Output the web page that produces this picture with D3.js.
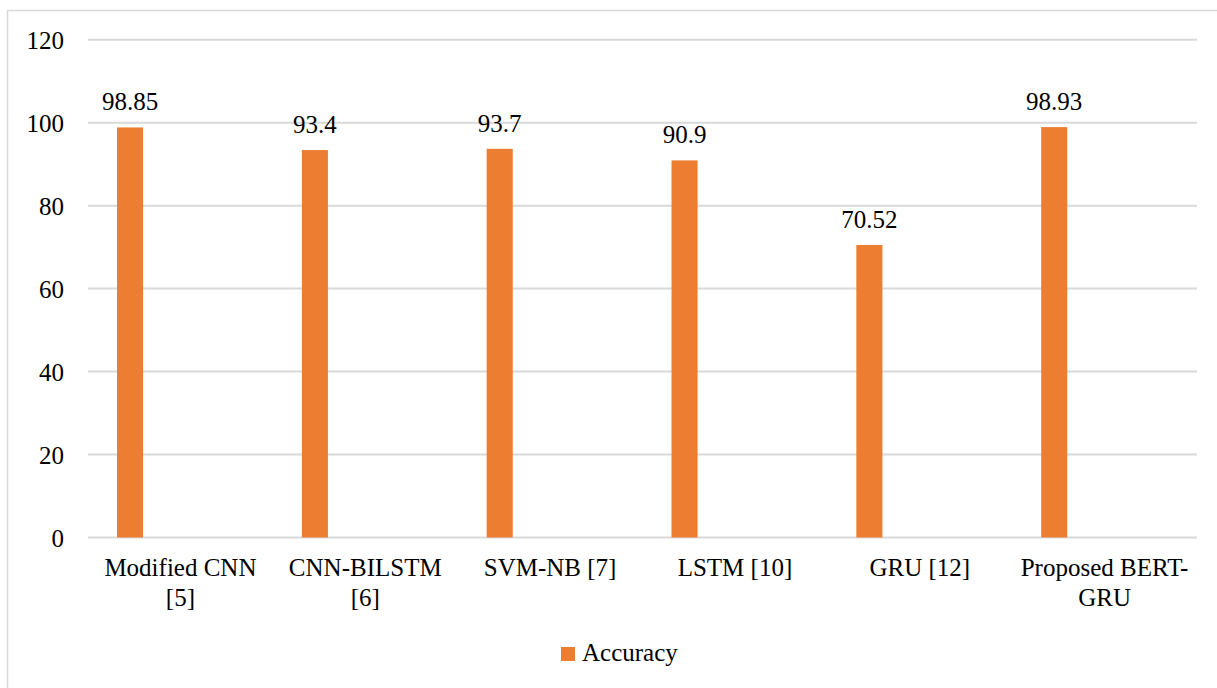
<!DOCTYPE html>
<html>
<head>
<meta charset="utf-8">
<script src="https://cdn.jsdelivr.net/npm/d3@7"></script>
<style>
  html, body { margin: 0; padding: 0; background: #fff; }
  svg { display: block; }
</style>
</head>
<body>
<svg id="chart" width="1217" height="688"></svg>
<script>
// Accuracy of each model
const categories = [
  ["Modified CNN", "[5]"],
  ["CNN-BILSTM", "[6]"],
  ["SVM-NB [7]"],
  ["LSTM [10]"],
  ["GRU [12]"],
  ["Proposed BERT-", "GRU"]
];
const accuracy = [98.85, 93.4, 93.7, 90.9, 70.52, 98.93];
const yTicks = [0, 20, 40, 60, 80, 100, 120];
const seriesName = "Accuracy";

const W = 1217, H = 688;
const plot = { left: 88, right: 1197, top: 39.7, bottom: 537.5 };
const barColor = "#ED7D31";
const gridColor = "#d9d9d9";
const fontSize = 25;
const fontFamily = "'Liberation Serif', 'Times New Roman', Tinos, 'Nimbus Roman', 'Noto Serif', 'DejaVu Serif', FreeSerif, serif";

const svg = d3.select("#chart")
  .style("font-family", fontFamily)
  .style("font-size", fontSize + "px");

// chart area frame (runs off the right and bottom edges)
svg.append("rect")
  .attr("x", 7.5).attr("y", 10.5)
  .attr("width", W + 20).attr("height", H + 20)
  .attr("fill", "#fff")
  .attr("stroke", gridColor).attr("stroke-width", 1.5);

const x = d3.scaleBand()
  .domain(d3.range(categories.length))
  .range([plot.left, plot.right])
  .paddingInner(0).paddingOuter(0);

const y = d3.scaleLinear().domain([0, 120]).range([plot.bottom, plot.top]);

// horizontal gridlines
svg.append("g")
  .selectAll("line")
  .data(yTicks)
  .join("line")
  .attr("x1", plot.left).attr("x2", plot.right)
  .attr("y1", d => y(d)).attr("y2", d => y(d))
  .attr("stroke", gridColor).attr("stroke-width", 2);

// y tick labels
const yAxis = d3.axisLeft(y).tickValues(yTicks).tickSize(0).tickPadding(0);
const gy = svg.append("g").attr("transform", `translate(64,0)`).call(yAxis);
gy.attr("font-family", null).attr("font-size", null);
gy.select(".domain").remove();
gy.selectAll("text")
  .attr("fill", "#000")
  .attr("dy", "0.34em");

// bars sit at the left side of each category slot
const bw = x.bandwidth();
const barOffset = bw * 0.157;
const barWidth = bw * 0.141;

svg.append("g")
  .selectAll("rect")
  .data(accuracy)
  .join("rect")
  .attr("x", (d, i) => x(i) + barOffset)
  .attr("y", d => y(d))
  .attr("width", barWidth)
  .attr("height", d => y(0) - y(d))
  .attr("fill", barColor);

// value labels
svg.append("g")
  .selectAll("text")
  .data(accuracy)
  .join("text")
  .attr("x", (d, i) => x(i) + barOffset + barWidth / 2)
  .attr("y", d => y(d) - 17)
  .attr("text-anchor", "middle")
  .attr("fill", "#000")
  .text(d => d);

// category labels
const cat = svg.append("g")
  .selectAll("text")
  .data(categories)
  .join("text")
  .attr("x", (d, i) => x(i) + bw / 2)
  .attr("y", 576)
  .attr("text-anchor", "middle")
  .attr("fill", "#000");
cat.selectAll("tspan")
  .data(d => d)
  .join("tspan")
  .attr("x", function () { return d3.select(this.parentNode).attr("x"); })
  .attr("dy", (d, i) => i === 0 ? 0 : 30)
  .text(d => d);

// legend
const lg = svg.append("g");
lg.append("rect")
  .attr("x", 561).attr("y", 647)
  .attr("width", 14).attr("height", 14)
  .attr("fill", barColor);
lg.append("text")
  .attr("x", 582).attr("y", 661)
  .attr("fill", "#000")
  .text(seriesName);
</script>
</body>
</html>
